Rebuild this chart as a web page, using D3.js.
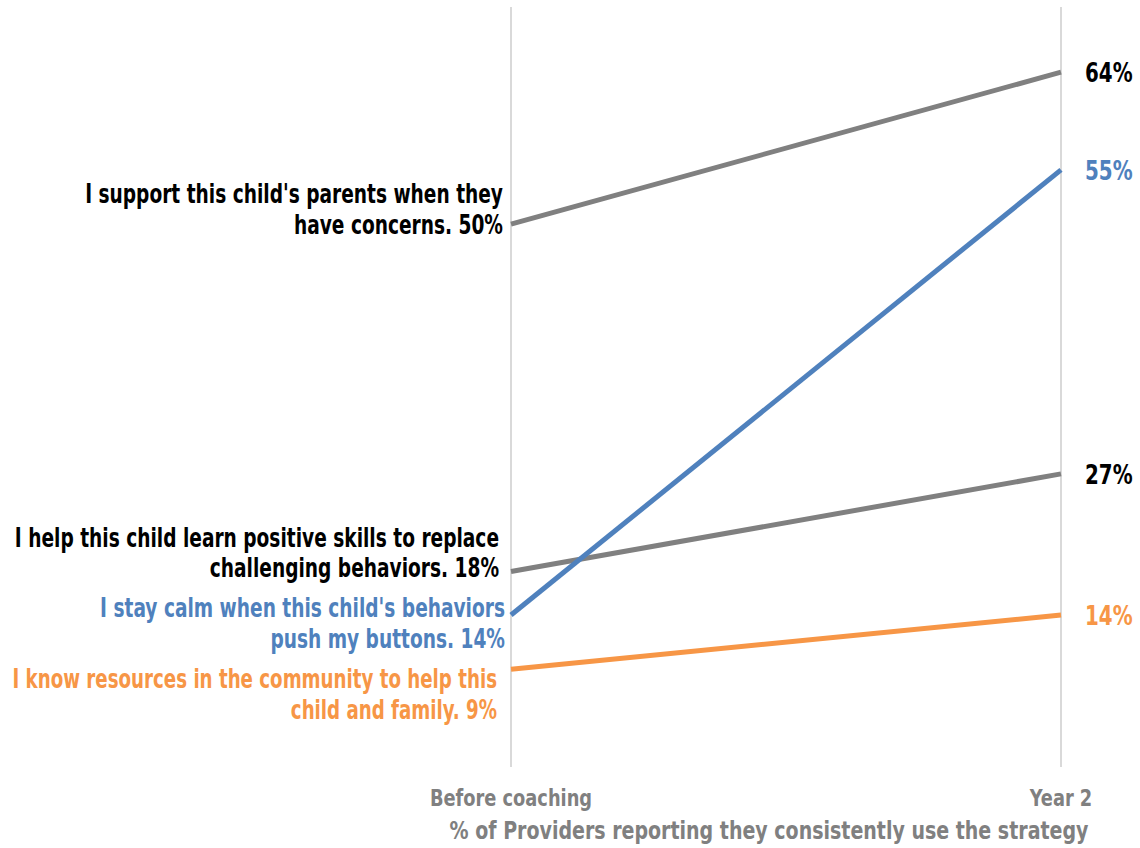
<!DOCTYPE html>
<html>
<head>
<meta charset="utf-8">
<script src="https://cdn.jsdelivr.net/npm/d3@7"></script>
<style>
  body { margin: 0; background: #fff; }
  text { font-family: "Liberation Sans Narrow", "DejaVu Sans Condensed", "Arial Narrow", sans-serif; font-weight: bold; }
</style>
</head>
<body>
<div id="chart"></div>
<script>
// data
var periods = ["Before coaching", "Year 2"];
var strategies = [
    ["I support this child's parents when they", "have concerns."],
    ["I help this child learn positive skills to replace", "challenging behaviors."],
    ["I stay calm when this child's behaviors", "push my buttons."],
    ["I know resources in the community to help this", "child and family."]
];
var beforeValues = [50, 18, 14, 9];
var year2Values = [64, 27, 55, 14];
var lineColors = ["#808080", "#808080", "#4f81bd", "#f79646"];
var textColors = ["#000000", "#000000", "#4f81bd", "#f79646"];
var axisTitle = "% of Providers reporting they consistently use the strategy";

// label nudges (first baseline relative to the point) and right edges
var leftDy = [-21, -25, 2, 19];
var leftEdge = [503, 499, 505, 497];
var leftK = [0.765, 0.765, 0.765, 0.75];

var svg = d3.select("#chart").append("svg").attr("width", 1140).attr("height", 848),
    margin = {top: 7, left: 511, right: 79, bottom: 81},
    width = +svg.attr("width") - margin.left - margin.right,
    height = +svg.attr("height") - margin.top - margin.bottom;

// squeeze fallback font horizontally to look like a condensed face
function condense(sel, k) {
    sel.each(function() {
        var L = this.getComputedTextLength();
        d3.select(this).attr("textLength", L * k).attr("lengthAdjust", "spacingAndGlyphs");
    });
}

var x = d3.scalePoint().domain(periods).range([0, width]);
var y = d3.scaleLinear().domain([0, 70]).range([height, 0]);

var g = svg.append("g").attr("transform", "translate(" + margin.left + "," + margin.top + ")");

// vertical gridlines at each period
g.selectAll(".vline")
    .data(periods)
    .enter().append("line")
    .attr("x1", function(d) { return x(d); })
    .attr("x2", function(d) { return x(d); })
    .attr("y1", 0)
    .attr("y2", height)
    .attr("stroke", "#d9d9d9")
    .attr("stroke-width", 2);

var series = strategies.map(function(s, i) {
    return {label: s, vals: [beforeValues[i], year2Values[i]], i: i};
});

var line = d3.line()
    .x(function(d, j) { return x(periods[j]); })
    .y(function(d) { return y(d); });

g.selectAll(".slope")
    .data(series)
    .enter().append("path")
    .attr("class", "slope")
    .attr("d", function(d) { return line(d.vals); })
    .attr("fill", "none")
    .attr("stroke", function(d) { return lineColors[d.i]; })
    .attr("stroke-width", 5);

// left labels, two lines each
series.forEach(function(d) {
    var y0 = margin.top + y(d.vals[0]) + leftDy[d.i];
    var lines = [d.label[0], d.label[1] + " " + d.vals[0] + "%"];
    svg.selectAll(".leftlab" + d.i)
        .data(lines)
        .enter().append("text")
        .attr("class", "leftlab")
        .attr("x", leftEdge[d.i])
        .attr("y", function(t, k) { return y0 + k * 30.5; })
        .attr("text-anchor", "end")
        .attr("font-size", 27)
        .attr("fill", textColors[d.i])
        .text(function(t) { return t; })
        .call(condense, leftK[d.i]);
});

// right labels
svg.selectAll(".rightlab")
    .data(series)
    .enter().append("text")
    .attr("class", "rightlab")
    .attr("x", margin.left + width + 24)
    .attr("y", function(d) { return margin.top + y(d.vals[1]) + 10; })
    .attr("font-size", 26)
    .attr("fill", function(d) { return textColors[d.i]; })
    .text(function(d) { return d.vals[1] + "%"; })
    .call(condense, 0.85);

// x axis labels
svg.selectAll(".xlab")
    .data(periods)
    .enter().append("text")
    .attr("class", "xlab")
    .attr("x", function(d) { return margin.left + x(d); })
    .attr("y", 806)
    .attr("text-anchor", "middle")
    .attr("font-size", 23)
    .attr("fill", "#808080")
    .text(function(d) { return d; })
    .call(condense, 0.86);

// axis title
svg.append("text")
    .attr("x", 769)
    .attr("y", 839)
    .attr("text-anchor", "middle")
    .attr("font-size", 24)
    .attr("fill", "#808080")
    .text(axisTitle)
    .call(condense, 0.88);
</script>
</body>
</html>
